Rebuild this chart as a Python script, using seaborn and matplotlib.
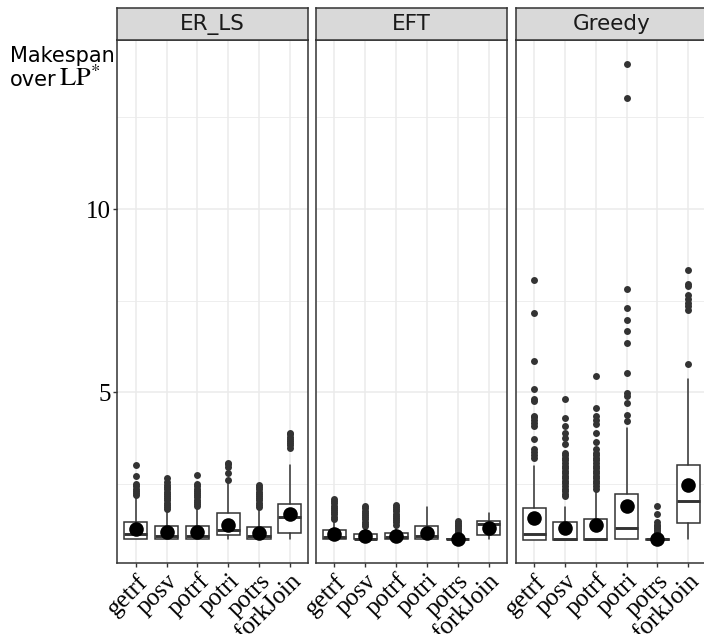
import matplotlib
matplotlib.use("Agg")
import matplotlib.pyplot as plt
import matplotlib.transforms as mtransforms
import seaborn as sns
import pandas as pd

# ---------------- data ----------------
algorithms = ["ER_LS", "EFT", "Greedy"]
kernels = ["getrf", "posv", "potrf", "potri", "potrs", "forkJoin"]

whisker_low = {
    "ER_LS":  [1.00, 1.00, 1.00, 1.00, 1.00, 1.01],
    "EFT":    [1.00, 1.00, 1.00, 1.00, 0.99, 1.01],
    "Greedy": [0.99, 0.99, 0.99, 1.00, 0.99, 1.00],
}
q1 = {
    "ER_LS":  [1.02, 1.02, 1.02, 1.12, 1.01, 1.18],
    "EFT":    [1.01, 1.00, 1.00, 1.01, 1.00, 1.12],
    "Greedy": [0.99, 0.99, 0.99, 1.00, 0.99, 1.44],
}
median = {
    "ER_LS":  [1.14, 1.10, 1.10, 1.26, 1.08, 1.60],
    "EFT":    [1.07, 1.02, 1.05, 1.10, 1.00, 1.41],
    "Greedy": [1.14, 1.02, 1.02, 1.32, 1.00, 2.05],
}
q3 = {
    "ER_LS":  [1.48, 1.36, 1.37, 1.71, 1.33, 1.97],
    "EFT":    [1.25, 1.15, 1.16, 1.37, 1.02, 1.50],
    "Greedy": [1.84, 1.46, 1.55, 2.23, 1.02, 3.02],
}
whisker_high = {
    "ER_LS":  [2.15, 1.78, 1.85, 2.55, 1.82, 3.03],
    "EFT":    [1.50, 1.32, 1.35, 1.89, 1.05, 1.71],
    "Greedy": [3.00, 1.87, 2.29, 4.04, 1.05, 5.37],
}
means = {
    "ER_LS":  [1.28, 1.20, 1.20, 1.40, 1.18, 1.69],
    "EFT":    [1.14, 1.08, 1.09, 1.17, 1.01, 1.30],
    "Greedy": [1.57, 1.32, 1.39, 1.91, 1.02, 2.47],
}
outliers = {
    "ER_LS": {
        "getrf": [2.20, 2.26, 2.32, 2.38, 2.44, 2.50, 2.73, 3.02],
        "posv": [1.82, 1.88, 1.94, 2.00, 2.06, 2.12, 2.18, 2.24, 2.30, 2.36,
                 2.42, 2.48, 2.55, 2.68],
        "potrf": [1.90, 1.96, 2.02, 2.08, 2.14, 2.20, 2.26, 2.32, 2.38, 2.44,
                  2.50, 2.75],
        "potri": [2.62, 2.80, 2.98, 3.04, 3.09],
        "potrs": [1.88, 1.94, 2.00, 2.06, 2.12, 2.18, 2.24, 2.30, 2.36, 2.42,
                  2.48],
        "forkJoin": [3.50, 3.56, 3.62, 3.68, 3.74, 3.80, 3.86, 3.90],
    },
    "EFT": {
        "getrf": [1.56, 1.62, 1.68, 1.74, 1.80, 1.86, 1.92, 1.98, 2.04, 2.09],
        "posv": [1.36, 1.42, 1.48, 1.54, 1.60, 1.66, 1.72, 1.78, 1.84, 1.90],
        "potrf": [1.40, 1.46, 1.52, 1.58, 1.64, 1.70, 1.76, 1.82, 1.88, 1.93],
        "potri": [],
        "potrs": [1.10, 1.15, 1.20, 1.25, 1.30, 1.35, 1.40, 1.45, 1.50],
        "forkJoin": [],
    },
    "Greedy": {
        "getrf": [3.22, 3.30, 3.38, 3.46, 3.72, 4.08, 4.16, 4.24, 4.32, 4.36,
                  4.77, 4.83, 5.10, 5.87, 7.17, 8.07],
        "posv": [2.17, 2.24, 2.31, 2.38, 2.45, 2.52, 2.59, 2.66, 2.73, 2.80,
                 2.87, 2.94, 3.01, 3.08, 3.15, 3.22, 3.29, 3.36, 3.60, 3.75,
                 3.90, 4.08, 4.31, 4.83],
        "potrf": [2.38, 2.45, 2.52, 2.59, 2.66, 2.73, 2.80, 2.87, 2.94, 3.01,
                  3.08, 3.15, 3.22, 3.29, 3.36, 3.45, 3.65, 3.90, 4.13, 4.25,
                  4.36, 4.58, 5.44],
        "potri": [4.22, 4.40, 4.70, 4.90, 4.98, 5.52, 6.35, 6.67, 6.98, 7.30,
                  7.82, 13.03, 13.94],
        "potrs": [1.10, 1.15, 1.20, 1.25, 1.30, 1.35, 1.40, 1.46, 1.68, 1.91],
        "forkJoin": [5.78, 7.25, 7.35, 7.45, 7.55, 7.65, 7.90, 7.97, 8.34],
    },
}

# ---------------- style ----------------
sns.set_theme(style="white")
plt.rcParams["font.family"] = ["DejaVu Sans"]
plt.rcParams["mathtext.fontset"] = "stix"

W, H = 704, 634
fig = plt.figure(figsize=(W / 100, H / 100), dpi=100)

panel_left = [117.3, 316.0, 515.7]
panel_w = 191.0
panel_top, panel_bot = 39.5, 563.3
strip_top = 7.5

edge = "#333333"
grid_c = "#EBEBEB"
serif = ["Liberation Serif", "DejaVu Serif"]

out_rows = []
for alg in algorithms:
    for k in kernels:
        for v in outliers[alg][k]:
            out_rows.append({"algorithm": alg, "kernel": k, "value": v})
out_df = pd.DataFrame(out_rows)
mean_df = pd.DataFrame([
    {"algorithm": alg, "kernel": k, "value": means[alg][i]}
    for alg in algorithms for i, k in enumerate(kernels)
])

for j, alg in enumerate(algorithms):
    x0 = panel_left[j]
    ax = fig.add_axes([x0 / W, (H - panel_bot) / H, panel_w / W,
                       (panel_bot - panel_top) / H])
    sax = fig.add_axes([x0 / W, (H - panel_top) / H, panel_w / W,
                        (panel_top - strip_top) / H])

    stats = []
    for i, k in enumerate(kernels):
        stats.append({
            "whislo": whisker_low[alg][i], "q1": q1[alg][i],
            "med": median[alg][i], "q3": q3[alg][i],
            "whishi": whisker_high[alg][i], "fliers": [], "label": k,
        })
    ax.bxp(stats, positions=list(range(len(kernels))), widths=0.75,
           showfliers=False, showcaps=False, patch_artist=True,
           boxprops=dict(facecolor="white", edgecolor=edge, linewidth=1.1),
           medianprops=dict(color=edge, linewidth=2.1),
           whiskerprops=dict(color=edge, linewidth=1.1),
           zorder=2)

    sub = out_df[out_df["algorithm"] == alg]
    sns.stripplot(data=sub, x="kernel", y="value", order=kernels,
                  jitter=False, color=edge, size=5.0, linewidth=0,
                  ax=ax, zorder=3, native_scale=False)
    subm = mean_df[mean_df["algorithm"] == alg]
    sns.stripplot(data=subm, x="kernel", y="value", order=kernels,
                  jitter=False, color="black", size=10.5, linewidth=0,
                  ax=ax, zorder=4)

    ax.set_xlim(-0.6, len(kernels) - 0.4)
    ax.set_ylim(0.345, 14.62)
    ax.set_xticks(range(len(kernels)))
    ax.set_xticklabels(kernels, fontfamily=serif, fontsize=18,
                       rotation=45, ha="right", va="top",
                       rotation_mode="anchor", color="black")
    offset = mtransforms.ScaledTranslation(6 / 100, -2 / 100, fig.dpi_scale_trans)
    for lab in ax.get_xticklabels():
        lab.set_transform(lab.get_transform() + offset)
    ax.set_yticks([5, 10])
    ax.set_yticks([2.5, 7.5, 12.5], minor=True)
    ax.set_axisbelow(True)
    ax.grid(True, which="major", axis="both", color=grid_c, linewidth=1.1)
    ax.grid(True, which="minor", axis="y", color=grid_c, linewidth=0.6)
    ax.set_xlabel("")
    ax.set_ylabel("")
    for sp in ax.spines.values():
        sp.set_color(edge)
        sp.set_linewidth(1.1)
    ax.tick_params(axis="x", which="major", bottom=True, length=3.2, width=1.0,
                   color=edge, pad=1.5)
    if j == 0:
        ax.set_yticklabels(["5", "10"], fontfamily=serif, fontsize=18,
                           color="black")
        ax.tick_params(axis="y", which="major", left=True, length=3.2,
                       width=1.0, color=edge, pad=1.5)
    else:
        ax.set_yticklabels([])
        ax.tick_params(axis="y", which="major", left=False, length=0)
    ax.tick_params(axis="y", which="minor", left=False, length=0)

    sax.set_facecolor("#D9D9D9")
    sax.set_xticks([])
    sax.set_yticks([])
    for sp in sax.spines.values():
        sp.set_color(edge)
        sp.set_linewidth(1.1)
    sax.text(0.5, 0.47, alg, ha="center", va="center", fontsize=15.5,
             color="#1a1a1a", transform=sax.transAxes)

fig.text(10 / W, 1 - 62 / H, "Makespan", ha="left", va="baseline",
         fontsize=15, color="black")
fig.text(10 / W, 1 - 86 / H, "over", ha="left", va="baseline",
         fontsize=15, color="black")
fig.text(59 / W, 1 - 86 / H, r"$\mathrm{LP}^{*}$", ha="left", va="baseline",
         fontsize=19, color="black")

fig.savefig("out.png", dpi=100)
